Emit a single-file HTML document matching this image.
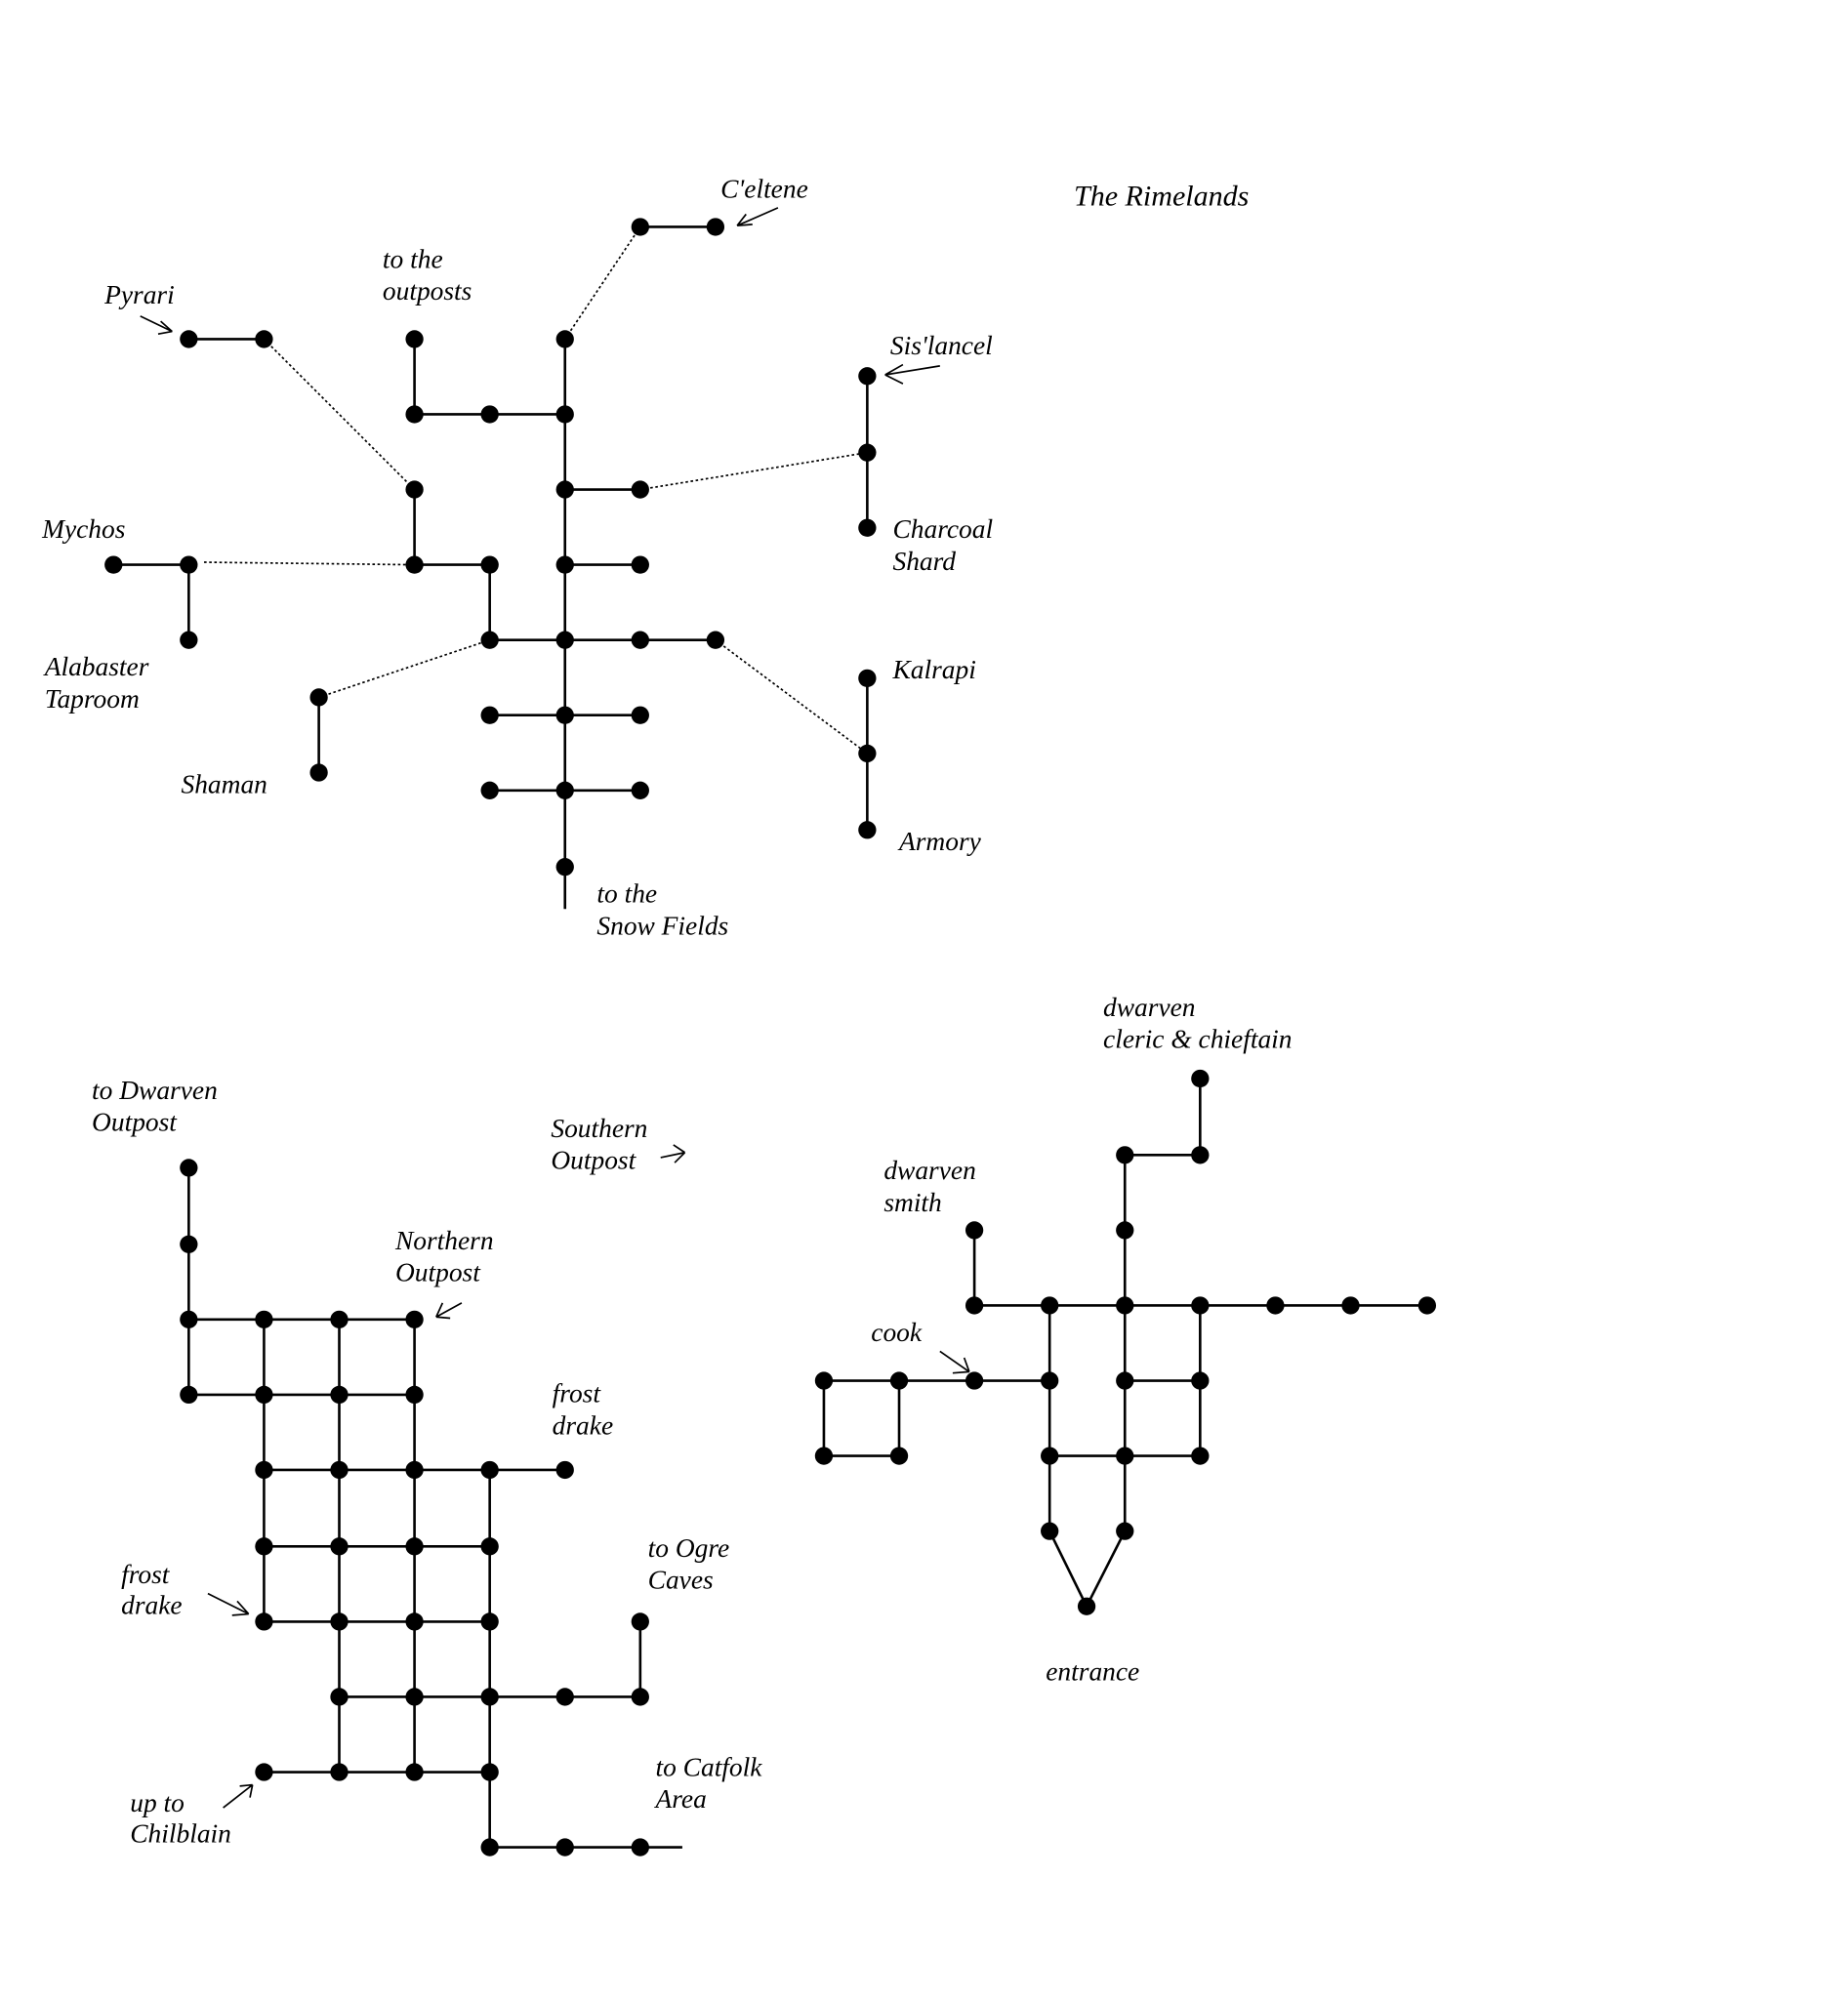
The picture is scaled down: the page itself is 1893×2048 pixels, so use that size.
<!DOCTYPE html>
<html><head><meta charset="utf-8"><style>
html,body{margin:0;padding:0;background:#fff;}
svg{display:block;}
text{font-family:"Liberation Serif",serif;font-style:italic;font-size:21px;fill:#000;}
</style></head><body>
<svg width="1893" height="2048" viewBox="0 0 1449 1568" preserveAspectRatio="none" xmlns="http://www.w3.org/2000/svg">
<g stroke="#000" stroke-width="2" fill="none">
<path d="M443 266V713 M325 266V325H443 M443 384H502 M443 443H502 M325 384V443H384V502H561 M384 561H502 M384 620H502 M148 266H207 M89 443H148V502 M250 547V606 M502 178H561 M680 295V414 M680 532V651"/>
<path d="M148 916V1094 M148 1035H325 M148 1094H325 M207 1153H443 M207 1213H384 M207 1272H384 M266 1331H502 M207 1390H384 M384 1449H535 M207 1035V1272 M266 1035V1390 M325 1035V1390 M384 1153V1449 M502 1272V1331"/>
<path d="M941 846V906H882V1201 M764 965V1024H1119 M646 1083H823 M882 1083H941 M646 1142H705 M823 1142H941 M646 1083V1142 M705 1083V1142 M823 1024V1201 M941 1024V1142 M823 1201L852 1260L882 1201"/>
<path d="M610 163L578 177 M578 177L590 176 M578 177L585 168" stroke-width="1.3"/>
<path d="M110 248L135 260 M135 260L126 252 M135 260L124 262" stroke-width="1.3"/>
<path d="M737 287L694 294 M694 294L708 286 M694 294L708 301" stroke-width="1.3"/>
<path d="M518 908L537 904 M537 904L528 898 M537 904L529 912" stroke-width="1.3"/>
<path d="M362 1022L342 1033 M342 1033L347 1022 M342 1033L353 1034" stroke-width="1.3"/>
<path d="M163 1250L195 1266 M195 1266L186 1256 M195 1266L182 1267" stroke-width="1.3"/>
<path d="M175 1418L198 1400 M198 1400L188 1401 M198 1400L196 1410" stroke-width="1.3"/>
<path d="M737 1060L760 1076 M760 1076L756 1065 M760 1076L747 1077" stroke-width="1.3"/>
</g>
<g stroke="#000" stroke-width="1.3" stroke-dasharray="2,2" fill="none">
<path d="M207 266L325 384 M160 441L325 443 M250 547L384 502 M443 266L502 178 M502 384L680 355 M561 502L680 591"/>
</g>
<g fill="#000">
<circle cx="443" cy="266" r="7"/><circle cx="443" cy="325" r="7"/><circle cx="443" cy="384" r="7"/><circle cx="443" cy="443" r="7"/><circle cx="443" cy="502" r="7"/><circle cx="443" cy="561" r="7"/><circle cx="443" cy="620" r="7"/><circle cx="443" cy="680" r="7"/>
<circle cx="325" cy="266" r="7"/><circle cx="325" cy="325" r="7"/><circle cx="384" cy="325" r="7"/>
<circle cx="502" cy="384" r="7"/><circle cx="502" cy="443" r="7"/>
<circle cx="325" cy="384" r="7"/><circle cx="325" cy="443" r="7"/><circle cx="384" cy="443" r="7"/>
<circle cx="384" cy="502" r="7"/><circle cx="502" cy="502" r="7"/><circle cx="561" cy="502" r="7"/>
<circle cx="384" cy="561" r="7"/><circle cx="502" cy="561" r="7"/><circle cx="384" cy="620" r="7"/><circle cx="502" cy="620" r="7"/>
<circle cx="148" cy="266" r="7"/><circle cx="207" cy="266" r="7"/>
<circle cx="89" cy="443" r="7"/><circle cx="148" cy="443" r="7"/><circle cx="148" cy="502" r="7"/>
<circle cx="250" cy="547" r="7"/><circle cx="250" cy="606" r="7"/>
<circle cx="502" cy="178" r="7"/><circle cx="561" cy="178" r="7"/>
<circle cx="680" cy="295" r="7"/><circle cx="680" cy="355" r="7"/><circle cx="680" cy="414" r="7"/>
<circle cx="680" cy="532" r="7"/><circle cx="680" cy="591" r="7"/><circle cx="680" cy="651" r="7"/>
<circle cx="148" cy="916" r="7"/><circle cx="148" cy="976" r="7"/>
<circle cx="148" cy="1035" r="7"/><circle cx="207" cy="1035" r="7"/><circle cx="266" cy="1035" r="7"/><circle cx="325" cy="1035" r="7"/>
<circle cx="148" cy="1094" r="7"/><circle cx="207" cy="1094" r="7"/><circle cx="266" cy="1094" r="7"/><circle cx="325" cy="1094" r="7"/>
<circle cx="207" cy="1153" r="7"/><circle cx="266" cy="1153" r="7"/><circle cx="325" cy="1153" r="7"/><circle cx="384" cy="1153" r="7"/><circle cx="443" cy="1153" r="7"/>
<circle cx="207" cy="1213" r="7"/><circle cx="266" cy="1213" r="7"/><circle cx="325" cy="1213" r="7"/><circle cx="384" cy="1213" r="7"/>
<circle cx="207" cy="1272" r="7"/><circle cx="266" cy="1272" r="7"/><circle cx="325" cy="1272" r="7"/><circle cx="384" cy="1272" r="7"/><circle cx="502" cy="1272" r="7"/>
<circle cx="266" cy="1331" r="7"/><circle cx="325" cy="1331" r="7"/><circle cx="384" cy="1331" r="7"/><circle cx="443" cy="1331" r="7"/><circle cx="502" cy="1331" r="7"/>
<circle cx="207" cy="1390" r="7"/><circle cx="266" cy="1390" r="7"/><circle cx="325" cy="1390" r="7"/><circle cx="384" cy="1390" r="7"/>
<circle cx="384" cy="1449" r="7"/><circle cx="443" cy="1449" r="7"/><circle cx="502" cy="1449" r="7"/>
<circle cx="941" cy="846" r="7"/><circle cx="941" cy="906" r="7"/><circle cx="882" cy="906" r="7"/><circle cx="882" cy="965" r="7"/><circle cx="764" cy="965" r="7"/>
<circle cx="764" cy="1024" r="7"/><circle cx="823" cy="1024" r="7"/><circle cx="882" cy="1024" r="7"/><circle cx="941" cy="1024" r="7"/><circle cx="1000" cy="1024" r="7"/><circle cx="1059" cy="1024" r="7"/><circle cx="1119" cy="1024" r="7"/>
<circle cx="646" cy="1083" r="7"/><circle cx="705" cy="1083" r="7"/><circle cx="764" cy="1083" r="7"/><circle cx="823" cy="1083" r="7"/><circle cx="882" cy="1083" r="7"/><circle cx="941" cy="1083" r="7"/>
<circle cx="646" cy="1142" r="7"/><circle cx="705" cy="1142" r="7"/><circle cx="823" cy="1142" r="7"/><circle cx="882" cy="1142" r="7"/><circle cx="941" cy="1142" r="7"/>
<circle cx="823" cy="1201" r="7"/><circle cx="882" cy="1201" r="7"/><circle cx="852" cy="1260" r="7"/>
</g>
<g>
<text x="565" y="155">C'eltene</text>
<text x="842" y="161" style="font-size:23px">The Rimelands</text>
<text x="300" y="210">to the</text><text x="300" y="235">outposts</text>
<text x="82" y="238">Pyrari</text>
<text x="698" y="278">Sis'lancel</text>
<text x="700" y="422">Charcoal</text><text x="700" y="447">Shard</text>
<text x="33" y="422">Mychos</text>
<text x="35" y="530">Alabaster</text><text x="35" y="555">Taproom</text>
<text x="142" y="622">Shaman</text>
<text x="700" y="532">Kalrapi</text>
<text x="705" y="667">Armory</text>
<text x="468" y="708">to the</text><text x="468" y="733">Snow Fields</text>
<text x="72" y="862">to Dwarven</text><text x="72" y="887">Outpost</text>
<text x="432" y="892">Southern</text><text x="432" y="917">Outpost</text>
<text x="310" y="980">Northern</text><text x="310" y="1005">Outpost</text>
<text x="433" y="1100">frost</text><text x="433" y="1125">drake</text>
<text x="95" y="1242">frost</text><text x="95" y="1266">drake</text>
<text x="508" y="1221">to Ogre</text><text x="508" y="1246">Caves</text>
<text x="102" y="1421">up to</text><text x="102" y="1445">Chilblain</text>
<text x="514" y="1393">to Catfolk</text><text x="514" y="1418">Area</text>
<text x="865" y="797">dwarven</text><text x="865" y="822">cleric &amp; chieftain</text>
<text x="693" y="925">dwarven</text><text x="693" y="950">smith</text>
<text x="683" y="1052">cook</text>
<text x="820" y="1318">entrance</text>
</g>
</svg>
</body></html>
